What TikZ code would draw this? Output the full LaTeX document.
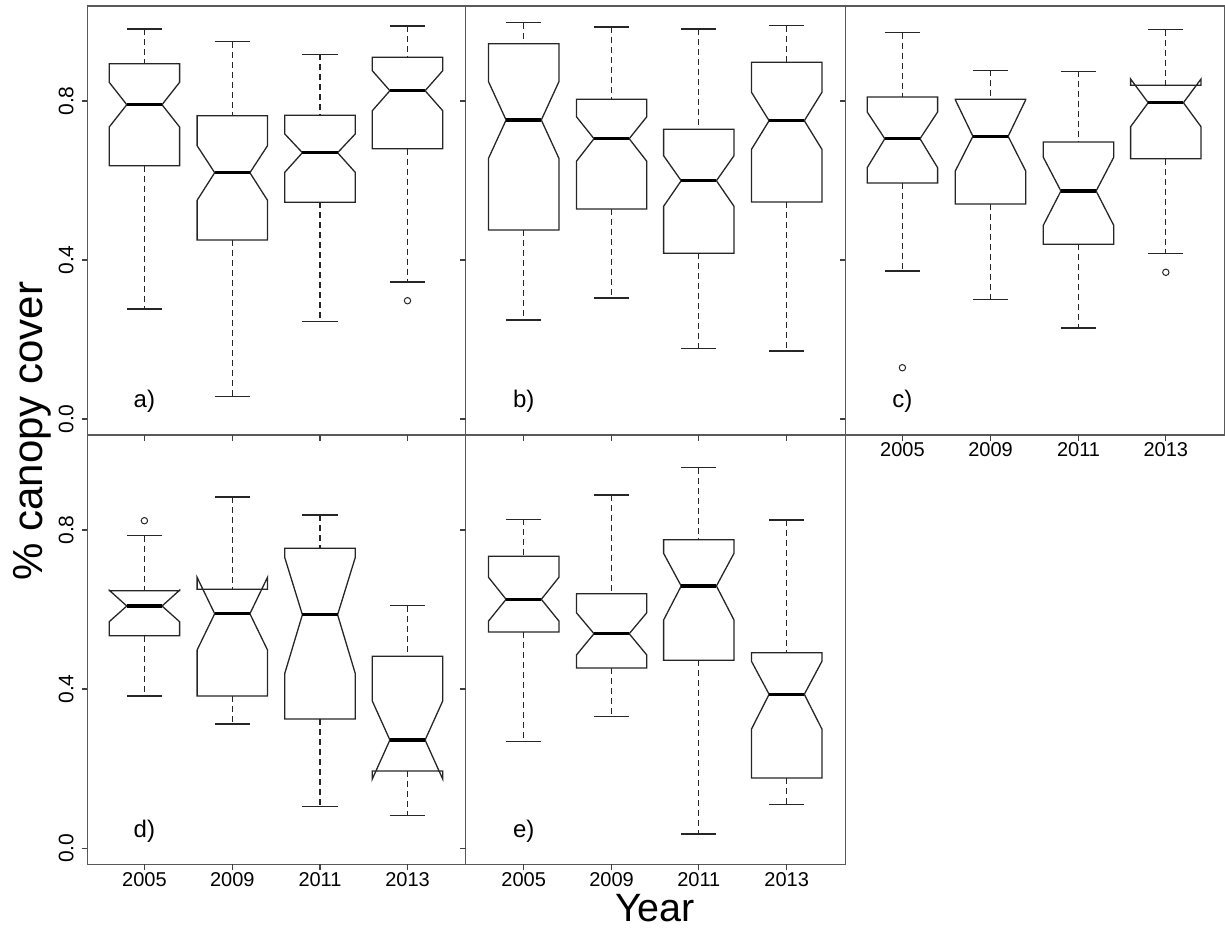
\documentclass[tikz,border=0pt]{standalone}
\usepackage{fontspec}
\setmainfont{Liberation Sans}
\tikzset{
  boxl/.style={draw=black!85, line width=1.3pt, line join=miter},
  whisk/.style={draw=black!85, line width=1.3pt, dash pattern=on 6pt off 4pt},
  capl/.style={draw=black!85, line width=1.3pt},
  medl/.style={draw=black, line width=3.2pt},
  outl/.style={draw=black!85, line width=1pt},
  frame/.style={draw=black!65, line width=1.4pt},
  tickl/.style={draw=black!75, line width=1.1pt},
  xlab/.style={font=\fontsize{20}{24}\selectfont, anchor=base, inner sep=0pt},
  ylabt/.style={font=\fontsize{21}{25}\selectfont, anchor=base, inner sep=0pt, rotate=90},
  plab/.style={font=\fontsize{24}{28}\selectfont, anchor=base, inner sep=0pt},
}
\newcommand{\notchbox}[8]{%
  \draw[whisk] (#1,#2) -- (#1,#3);
  \draw[whisk] (#1,#7) -- (#1,#8);
  \draw[capl] ({#1-17.6},#2) -- ({#1+17.6},#2);
  \draw[capl] ({#1-17.6},#8) -- ({#1+17.6},#8);
  \draw[boxl] ({#1-35.2},#7) -- ({#1+35.2},#7) -- ({#1+35.2},#6) -- ({#1+17.6},#5) -- ({#1+35.2},#4) -- ({#1+35.2},#3) -- ({#1-35.2},#3) -- ({#1-35.2},#4) -- ({#1-17.6},#5) -- ({#1-35.2},#6) -- cycle;
  \draw[medl] ({#1-17.6},#5) -- ({#1+17.6},#5);
}
\begin{document}
\begin{tikzpicture}[x=1pt,y=-1pt]
\useasboundingbox (0,0) rectangle (1225,930);

% panel frames
\draw[frame] (87.3,6) rectangle (465.7,435);
\draw[frame] (465.7,6) rectangle (845.3,435);
\draw[frame] (845.3,6) rectangle (1224.3,435);
\draw[frame] (87.3,435) rectangle (465.7,864.3);
\draw[frame] (465.7,435) rectangle (845.3,864.3);

% y ticks
\foreach \px in {87.3,465.7,845.3}{
  \foreach \ty in {419,260,101}{\draw[tickl] (\px,\ty) -- ({\px-5.5},\ty);}
}
\foreach \px in {87.3,465.7}{
  \foreach \ty in {848.3,689,530}{\draw[tickl] (\px,\ty) -- ({\px-5.5},\ty);}
}
% x ticks
\foreach \tx in {144.4,232.3,320.0,407.5,523.7,611.6,698.8,786.7,902.4,990.5,1078.5,1165.8}{
  \draw[tickl] (\tx,435) -- (\tx,440.5);
}
\foreach \tx in {144.4,232.3,320.0,407.5,523.7,611.6,698.8,786.7}{
  \draw[tickl] (\tx,864.3) -- (\tx,869.8);
}

% y tick labels
\node[ylabt] (ya0) at (73.3,419) {0.0};
\node[ylabt] (ya4) at (73.3,260) {0.4};
\node[ylabt] (ya8) at (73.3,101) {0.8};
\node[ylabt] (yd0) at (73.3,848.3) {0.0};
\node[ylabt] (yd4) at (73.3,689) {0.4};
\node[ylabt] (yd8) at (73.3,530) {0.8};

% x tick labels
\node[xlab] (xc1) at (902.4,456.3) {2005};
\node[xlab] (xc2) at (990.5,456.3) {2009};
\node[xlab] (xc3) at (1078.5,456.3) {2011};
\node[xlab] (xc4) at (1165.8,456.3) {2013};
\node[xlab] (xd1) at (144.4,886) {2005};
\node[xlab] (xd2) at (232.3,886) {2009};
\node[xlab] (xd3) at (320.0,886) {2011};
\node[xlab] (xd4) at (407.5,886) {2013};
\node[xlab] (xe1) at (523.7,886) {2005};
\node[xlab] (xe2) at (611.6,886) {2009};
\node[xlab] (xe3) at (698.8,886) {2011};
\node[xlab] (xe4) at (786.7,886) {2013};

% axis titles
\node[rotate=90, anchor=base, inner sep=0pt, font=\fontsize{42}{50}\selectfont] (ytitle) at (42.7,431) {\% canopy cover};
\node[anchor=base, inner sep=0pt, font=\fontsize{39.5}{46}\selectfont] (xtitle) at (655,921.7) {Year};

% panel labels
\node[plab] (la) at (144.4,407.3) {a)};
\node[plab] (lb) at (523.7,407.3) {b)};
\node[plab] (lc) at (902.4,407.3) {c)};
\node[plab] (ld) at (144.4,837.3) {d)};
\node[plab] (le) at (523.7,837.3) {e)};

% panel a
\notchbox{144.4}{29}{63.7}{82.3}{104.7}{127}{165.7}{309}
\notchbox{232.3}{41.7}{115.7}{145.7}{172.7}{200.3}{240}{396.3}
\notchbox{320.0}{54.3}{115.3}{134}{152.7}{172.3}{202.3}{321.3}
\notchbox{407.5}{26}{57.3}{70.7}{90.7}{110.7}{148.7}{282}
\draw[outl] (407.5,300.7) circle (3.2pt);

% panel b
\notchbox{523.7}{22.7}{43.7}{81.7}{120}{158.3}{230}{320}
\notchbox{611.6}{27}{99.3}{116.7}{138.7}{161.3}{209}{298}
\notchbox{698.8}{29}{129.3}{155.7}{180.7}{206.3}{253.3}{348.7}
\notchbox{786.7}{25.7}{62.3}{92.3}{120.7}{149.3}{202}{351}

% panel c
\notchbox{902.4}{32.7}{97}{112}{138.7}{167.7}{183}{271}
\draw[outl] (902.4,367.7) circle (3.2pt);
\notchbox{990.5}{70.3}{99.3}{99.8}{136.3}{171}{204}{299.3}
\notchbox{1078.5}{71.3}{142}{157.3}{191}{225.3}{244.3}{328}
\notchbox{1165.8}{29.7}{85.3}{79}{102.7}{126.7}{158.7}{253.3}
\draw[outl] (1165.8,272.3) circle (3.2pt);

% panel d
\notchbox{144.4}{535.7}{590.7}{590.2}{606}{621.7}{635.7}{696}
\draw[outl] (144.4,520.7) circle (3.2pt);
\notchbox{232.3}{497}{589.3}{577.3}{613.7}{650}{696}{724}
\notchbox{320.0}{515}{548.3}{557.7}{614.7}{673.3}{719}{806.7}
\notchbox{407.5}{605.7}{656.3}{701}{740}{779}{771}{815.3}

% panel e
\notchbox{523.7}{519.3}{556.3}{577.3}{599.3}{621}{632}{741.7}
\notchbox{611.6}{495}{593.7}{612.7}{633.7}{655}{668}{716.7}
\notchbox{698.8}{467.7}{539.7}{553.3}{586}{620}{660.3}{834}
\notchbox{786.7}{520}{652.7}{661.3}{694.3}{729}{778}{804.7}
\end{tikzpicture}
\end{document}
